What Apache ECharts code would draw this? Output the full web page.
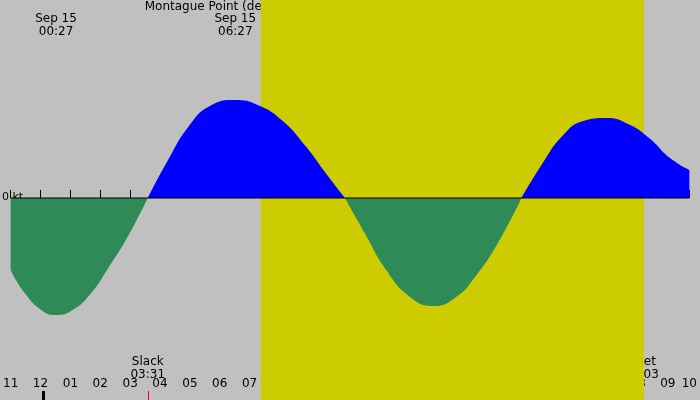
<!DOCTYPE html>
<html><head><meta charset="utf-8">
<script src="https://cdn.jsdelivr.net/npm/echarts@6/dist/echarts.min.js"></script>
<style>html,body{margin:0;padding:0;}#c{width:700px;height:400px;}</style>
</head><body><div id="c"></div>
<script>
// times in hours from midnight Sep 15; velocity in kt
var ebb1 = [[-1.07,-0.72],[-0.6,-0.95],[0,-1.13],[0.45,-1.17],[1.0,-1.12],[1.6,-0.96],[2.2,-0.7],[2.9,-0.36],[3.52,0]];
var flood1 = [[3.52,0],[4.2,0.38],[4.9,0.72],[5.6,0.92],[6.45,0.98],[7.2,0.93],[8.0,0.78],[8.8,0.52],[9.5,0.24],[10.12,0]];
var ebb2 = [[10.12,0],[10.8,-0.36],[11.5,-0.72],[12.3,-0.99],[13.07,-1.08],[13.8,-1.0],[14.5,-0.78],[15.3,-0.42],[16.03,0]];
var flood2 = [[16.03,0],[16.7,0.33],[17.4,0.62],[18.1,0.77],[18.88,0.80],[19.6,0.74],[20.3,0.6],[21.0,0.4],[21.65,0.28]];
var topLabels = [[0.45,'Sep 15','00:27'],[6.45,'Sep 15','06:27'],[13.07,'Sep 15','13:04'],[18.88,'Sep 15','18:53']];
var bottomLabels = [[3.52,'Slack','03:31'],[10.12,'Slack','10:07'],[14.48,'Mrise','14:29'],[16.03,'Slack','16:02'],[20.05,'Mset','20:03']];
var redTicks = [3.52,10.12,16.03];
var blackTicks = [14.48,20.05];
var daylight = [7.30,20.13];
var title = 'Montague Point (depth 277 ft), Prince William Sound, Alaska Current';

var chart = echarts.init(document.getElementById('c'));
var font = 'DejaVu Sans';
function area(d,c){return {type:'line',data:d,symbol:'none',smooth:true,lineStyle:{width:0},areaStyle:{color:c,opacity:1},z:3};}
chart.setOption({
  backgroundColor:'#c0c0c0',
  animation:false,
  grid:{left:0,right:0,top:0,bottom:0},
  xAxis:{type:'value',min:-1.07,max:21.65,interval:1,
    axisLine:{show:false},splitLine:{show:false},
    axisTick:{inside:true,length:8,lineStyle:{color:'#000'}},
    axisLabel:{inside:true,margin:10,color:'#000',fontFamily:font,fontSize:12,
      formatter:function(v){var h=((Math.round(v)%12)+12)%12; if(h===0)h=12; return (h<10?'0':'')+h;}}},
  yAxis:{type:'value',min:-2.02,max:1.98,show:false},
  series:[
    {type:'line',data:[],markArea:{silent:true,itemStyle:{color:'#cccc00'},data:[[{xAxis:daylight[0]},{xAxis:daylight[1]}]]},z:1},
    area(ebb1,'#2e8b57'),area(flood1,'#0000ff'),area(ebb2,'#2e8b57'),area(flood2,'#0000ff'),
    {type:'line',data:[[-1.07,0],[21.65,0]],symbol:'none',lineStyle:{color:'#000',width:1},z:5}
  ]
});
var g=[];
g.push({type:'text',left:'center',top:1,style:{text:title,font:'12px '+font,fill:'#000'}});
g.push({type:'text',x:2,y:192,style:{text:'0 kt',font:'11px '+font,fill:'#000'}});
topLabels.forEach(function(t){var x=chart.convertToPixel({xAxisIndex:0},t[0]);
  g.push({type:'text',x:x,y:12,style:{text:t[1]+'\n'+t[2],font:'12px '+font,fill:'#000',align:'center',lineHeight:13}});});
bottomLabels.forEach(function(t){var x=chart.convertToPixel({xAxisIndex:0},t[0]);
  g.push({type:'text',x:x,y:355,style:{text:t[1]+'\n'+t[2],font:'12px '+font,fill:'#000',align:'center',lineHeight:13}});});
redTicks.forEach(function(t){var x=Math.round(chart.convertToPixel({xAxisIndex:0},t))+0.5;
  g.push({type:'line',shape:{x1:x,y1:391,x2:x,y2:400},style:{stroke:'#ff0000',lineWidth:1}});});
blackTicks.forEach(function(t){var x=Math.round(chart.convertToPixel({xAxisIndex:0},t))+0.5;
  g.push({type:'line',shape:{x1:x,y1:391,x2:x,y2:400},style:{stroke:'#000',lineWidth:1}});});
var mx=Math.round(chart.convertToPixel({xAxisIndex:0},0));
g.push({type:'rect',shape:{x:mx-1,y:391,width:3,height:9},style:{fill:'#000'}});
chart.setOption({graphic:g});
</script></body></html>
